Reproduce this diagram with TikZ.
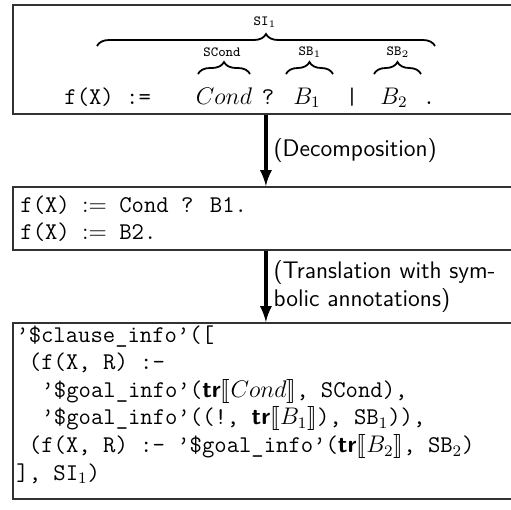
\documentclass[tikz,border=0pt]{standalone}
\usepackage{stmaryrd}
\usetikzlibrary{arrows}
\usetikzlibrary{decorations.pathreplacing, math}
\definecolor{framegray}{RGB}{50,50,50}

\newcommand{\tind}[1]{\hspace*{#1\dimexpr 0.525em\relax}}
\newcommand{\tq}{\textquoteright}
\newcommand{\trop}[1]{\textsf{\bfseries tr}$\llbracket #1\rrbracket$}
\newcommand{\codesize}{\fontsize{12}{13.8}\selectfont}

\begin{document}
\begin{tikzpicture}[x=0.5pt, y=-0.5pt,
  frame/.style={draw=framegray, line width=0.9pt, anchor=north west, inner sep=0pt, minimum width={\W*\px*1pt}},
  code/.style={anchor=north west, inner sep=0pt, align=left, font=\codesize\ttfamily},
  piece/.style={anchor=base, inner sep=0pt, font=\large},
  brc/.style={decorate, decoration={brace, amplitude=6pt}, line width=0.9pt},
  tag/.style={inner sep=0pt, font=\scriptsize\ttfamily},
  flow/.style={-latex, line width=1.7pt},
  note/.style={midway, right, inner sep=3pt, align=left, font=\sffamily\large}]
\tikzmath{
\W=506; % frame width (px)
\px=0.5;
}
\useasboundingbox (0,0) rectangle (511,510);

%frames
\node[frame, minimum height={109*\px*1pt}] (src) at (12,4) {};
\node[frame, minimum height={63*\px*1pt}] (split) at (12,186) {};
\node[frame, minimum height={176*\px*1pt}] (trans) at (12,322) {};

%source clause
\node[piece, anchor=base west] (head) at (64,104) {\texttt{f(X) :=}};
\node[piece] (cond) at (224,104) {$Cond$};
\node[piece] (qm) at (268,104) {\texttt{?}};
\node[piece] (bone) at (307,104) {$B_1$};
\node[piece] (bar) at (352,104) {\texttt{|}};
\node[piece] (btwo) at (394,104) {$B_2$};
\node[piece] (dot) at (429,104) {\texttt{.}};

%braces
\draw[brc] (97,46) -- (435,46);
\draw[brc] (198,74) -- (250,74);
\draw[brc] (286,74) -- (333,74);
\draw[brc] (374,74) -- (421,74);
\node[tag] (sione) at (265,22) {SI$_1$};
\node[tag] (scond) at (222,52) {SCond};
\node[tag] (sbone) at (310,52) {SB$_1$};
\node[tag] (sbtwo) at (398,52) {SB$_2$};

%steps
\draw[flow] (src) -- (split) node[note] {(Decomposition)};
\draw[flow] (split) -- (trans) node[note] {(Translation with sym-\\bolic annotations)};

%split clauses
\node[code] (splitcode) at (20,195) {f(X) $:=$ Cond ? B1.\\f(X) $:=$ B2.};

%translated clause
\node[code] (transcode) at (16,325) {%
\tq\$clause\_info\tq([\\
\tind{1}(f(X, R) :-\\
\tind{2}\tq\$goal\_info\tq(\trop{Cond}, SCond),\\
\tind{2}\tq\$goal\_info\tq((!, \trop{B_1}), SB$_1$)),\\
\tind{1}(f(X, R) :- \tq\$goal\_info\tq(\trop{B_2}, SB$_2$)\\
], SI$_1$)};
\end{tikzpicture}
\end{document}
